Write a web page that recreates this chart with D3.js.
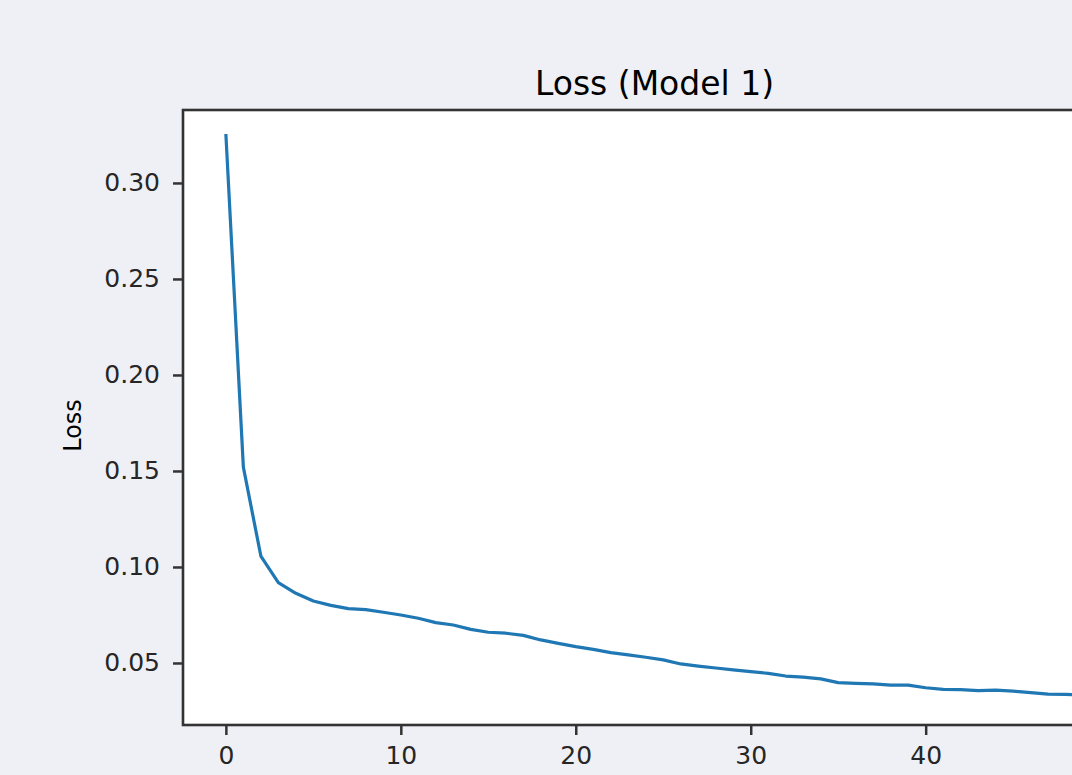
<!DOCTYPE html>
<meta charset="utf-8">
<style>
body {
    margin: 0;
    background: #eff0f5;
    overflow: hidden;
}
svg {
    display: block;
}
svg text {
    font-family: "DejaVu Sans", sans-serif;
}
.tick text {
    fill: #262626;
    font-size: 25px;
}
.tick line {
    stroke: #333;
    stroke-width: 2.5px;
}
.domain {
    display: none;
}
.spine {
    fill: none;
    stroke: #333;
    stroke-width: 2.6px;
}
.loss-line {
    fill: none;
    stroke: #1f77b4;
    stroke-width: 3.2px;
    stroke-linejoin: round;
}
</style>

<svg id="chart" width="1072" height="775"></svg>

<script src="https://d3js.org/d3.v7.min.js"></script>
<script>
    // loss per epoch
    var epochs = d3.range(0, 50);
    var loss = [
        0.3255, 0.1520, 0.1057, 0.0918, 0.0863, 0.0823, 0.0800, 0.0783, 0.0778, 0.0764,
        0.0750, 0.0733, 0.0710, 0.0698, 0.0675, 0.0660, 0.0655, 0.0644, 0.0620, 0.0602,
        0.0585, 0.0571, 0.0554, 0.0542, 0.0530, 0.0516, 0.0495, 0.0484, 0.0474, 0.0464,
        0.0455, 0.0446, 0.0432, 0.0426, 0.0417, 0.0398, 0.0394, 0.0391, 0.0385, 0.0385,
        0.0371, 0.0363, 0.0361, 0.0356, 0.0359, 0.0353, 0.0346, 0.0338, 0.0336, 0.0333
    ];
    // the 50 tick falls past the right edge of the picture
    var xTicks = [0, 10, 20, 30, 40];
    var yTicks = [0.05, 0.10, 0.15, 0.20, 0.25, 0.30];
    var title = "Loss (Model 1)";
    var yLabel = "Loss";

    var svg = d3.select("#chart");

    var plotLeft = 183, plotRight = 1126,
        plotTop = 110, plotBottom = 725;

    var x = d3.scaleLinear()
              .domain([-2.45, 51.45])
              .range([plotLeft, plotRight]);
    var y = d3.scaleLinear()
              .domain([0.0177, 0.338])
              .range([plotBottom, plotTop]);

    svg.append("rect")
       .attr("x", plotLeft)
       .attr("y", plotTop)
       .attr("width", plotRight - plotLeft)
       .attr("height", plotBottom - plotTop)
       .attr("fill", "#fff");

    svg.append("clipPath")
       .attr("id", "plot-clip")
       .append("rect")
       .attr("x", plotLeft)
       .attr("y", plotTop)
       .attr("width", plotRight - plotLeft)
       .attr("height", plotBottom - plotTop);

    var line = d3.line()
                 .x(function(d, i) { return x(epochs[i]); })
                 .y(function(d) { return y(d); });

    svg.append("path")
       .datum(loss)
       .attr("class", "loss-line")
       .attr("clip-path", "url(#plot-clip)")
       .attr("d", line);

    svg.append("g")
       .attr("transform", "translate(0," + plotBottom + ")")
       .call(d3.axisBottom(x)
               .tickValues(xTicks)
               .tickFormat(d3.format("d"))
               .tickSize(10)
               .tickPadding(11));

    svg.append("g")
       .attr("transform", "translate(" + plotLeft + ",0)")
       .call(d3.axisLeft(y)
               .tickValues(yTicks)
               .tickFormat(d3.format(".2f"))
               .tickSize(10)
               .tickPadding(13));

    svg.append("rect")
       .attr("class", "spine")
       .attr("x", plotLeft)
       .attr("y", plotTop)
       .attr("width", plotRight - plotLeft)
       .attr("height", plotBottom - plotTop);

    svg.append("text")
       .attr("x", (plotLeft + plotRight) / 2)
       .attr("y", 95)
       .attr("text-anchor", "middle")
       .attr("fill", "#000")
       .attr("font-size", "33px")
       .text(title);

    svg.append("text")
       .attr("transform", "translate(81," + ((plotTop + plotBottom) / 2 + 8) + ") rotate(-90)")
       .attr("text-anchor", "middle")
       .attr("fill", "#000")
       .attr("font-size", "24px")
       .text(yLabel);
</script>
